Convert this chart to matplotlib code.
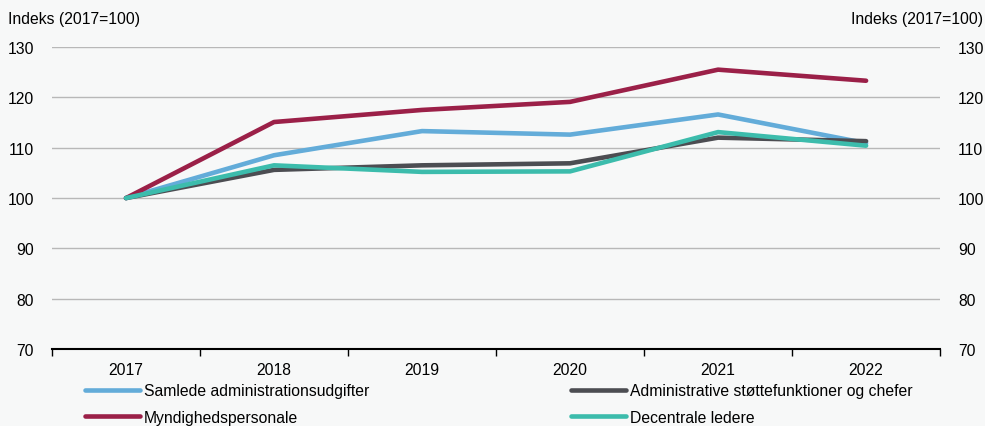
import numpy as np
import matplotlib.pyplot as plt

plt.rcParams['font.family'] = ['Liberation Sans', 'DejaVu Sans']

years = ["2017", "2018", "2019", "2020", "2021", "2022"]
samlede = [100, 108.5, 113.3, 112.6, 116.6, 110.9]
myndighed = [100, 115.1, 117.5, 119.1, 125.5, 123.3]
administrative = [100, 105.6, 106.5, 106.9, 112.0, 111.3]
decentrale = [100, 106.5, 105.2, 105.3, 113.1, 110.4]

bg = "#f7f8f8"
fig = plt.figure(figsize=(9.85, 4.27), dpi=100, facecolor=bg)
ax = fig.add_axes([0.0528, 0.180, 0.9016, 0.7076], facecolor=bg)

x = np.arange(len(years))
kw = dict(lw=3.3, solid_capstyle='round', solid_joinstyle='round')
l1, = ax.plot(x, samlede, color="#63acd9", label="Samlede administrationsudgifter", **kw)
l2, = ax.plot(x, myndighed, color="#9b2048", label="Myndighedspersonale", **kw)
l3, = ax.plot(x, administrative, color="#4c4d52", label="Administrative støttefunktioner og chefer", **kw)
l4, = ax.plot(x, decentrale, color="#3cbcac", label="Decentrale ledere", **kw)

ax.set_xlim(-0.5, 5.5)
ax.set_ylim(70, 130)
ax.set_yticks(range(70, 131, 10))
ax.set_xticks(x)
ax.set_xticklabels(years)
ax.set_xticks(np.arange(-0.5, 6, 1), minor=True)
ax.tick_params(axis='x', which='major', length=0, labelsize=11.3, pad=9)
ax.tick_params(axis='x', which='minor', length=5, width=1, direction='out', color='black')
ax.tick_params(axis='y', length=0, labelsize=11.3, pad=13, labelright=True)
ax.grid(axis='y', color="#b8b8b8", lw=1)
ax.set_axisbelow(True)
for s in ['left', 'right', 'top']:
    ax.spines[s].set_visible(False)
ax.spines['bottom'].set_linewidth(1.5)

fig.text(0.008, 0.955, "Indeks (2017=100)", fontsize=11.3, ha='left', va='center')
fig.text(0.998, 0.955, "Indeks (2017=100)", fontsize=11.3, ha='right', va='center')

leg_kw = dict(loc='upper left', frameon=False, fontsize=11.3, handlelength=3.5,
              handletextpad=0.25, borderpad=0, labelspacing=0.72, borderaxespad=0)
fig.legend(handles=[l1, l2], bbox_to_anchor=(0.086, 0.10), **leg_kw)
fig.legend(handles=[l3, l4], bbox_to_anchor=(0.580, 0.10), **leg_kw)

fig.savefig("out.png", dpi=100, facecolor=bg)
